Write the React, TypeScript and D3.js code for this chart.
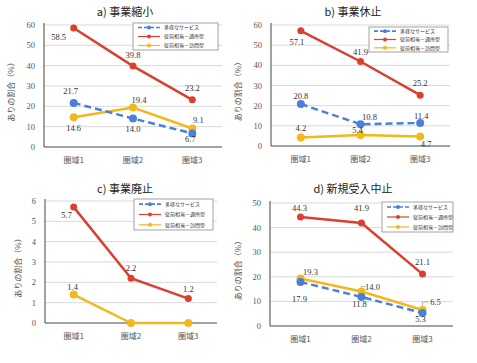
import React from 'react';
import * as d3 from 'd3';

// categories and series
const areas = ['圏域1', '圏域2', '圏域3'];
const seriesNames = ['多様なサービス', '従前相当－通所型', '従前相当－訪問型'];
const seriesColors = ['#4a7fdc', '#d9402f', '#f2b81c'];

// a) 事業縮小
const shukushoTayo = [21.7, 14.0, 6.7];
const shukushoTsusho = [58.5, 39.8, 23.2];
const shukushoHomon = [14.6, 19.4, 9.1];
// b) 事業休止
const kyushiTayo = [20.8, 10.8, 11.4];
const kyushiTsusho = [57.1, 41.9, 25.2];
const kyushiHomon = [4.2, 5.4, 4.7];
// c) 事業廃止 (多様なサービス: no data)
const haishiTayo: (number | null)[] = [null, null, null];
const haishiTsusho = [5.7, 2.2, 1.2];
const haishiHomon = [1.4, 0, 0];
const haishiHomonLabels = ['1.4', '', ''];
// d) 新規受入中止
const teishiTayo = [17.9, 11.8, 5.3];
const teishiTsusho = [44.3, 41.9, 21.1];
const teishiHomon = [19.3, 14.0, 6.5];

const fmt = (v: number) => v.toFixed(1);

// label offsets [dx, dy] per series per point (layout only)
const panels = [
  {
    title: 'a)  事業縮小', tx: 125, ty: 16,
    left: 44, right: 222, top: 25, bottom: 147, yMax: 60, step: 10, ylx: 14,
    legend: [133, 23, 85, 27],
    series: [shukushoTayo, shukushoTsusho, shukushoHomon],
    labels: [null, null, null] as (string[] | null)[],
    offs: [
      [[-3, -12], [0, 10], [-2, 6]],
      [[-15, 9], [0, -11], [0, -12]],
      [[0, 11], [6, -8], [6, -8]],
    ],
    leaders: [] as number[][],
  },
  {
    title: 'b)  事業休止', tx: 353, ty: 16,
    left: 271, right: 450, top: 25, bottom: 146, yMax: 60, step: 10, ylx: 241,
    legend: [369, 27, 79, 25],
    series: [kyushiTayo, kyushiTsusho, kyushiHomon],
    labels: [null, null, null] as (string[] | null)[],
    offs: [
      [[0, -8], [9, -7], [1, -7]],
      [[-4, 11], [0, -10], [0, -12]],
      [[0, -10], [-3, -5], [6, 7]],
    ],
    leaders: [] as number[][],
  },
  {
    title: 'c)  事業廃止', tx: 125, ty: 193,
    left: 45, right: 217, top: 201, bottom: 323, yMax: 6, step: 1, ylx: 21,
    legend: [134, 199, 79, 31],
    series: [haishiTayo, haishiTsusho, haishiHomon],
    labels: [null, null, haishiHomonLabels] as (string[] | null)[],
    offs: [
      [[0, 0], [0, 0], [0, 0]],
      [[-7, 8], [0, -10], [0, -10]],
      [[-1, -8], [0, 0], [0, 0]],
    ],
    leaders: [] as number[][],
  },
  {
    title: 'd)  新規受入中止', tx: 353, ty: 193,
    left: 270, right: 453, top: 203, bottom: 326, yMax: 50, step: 10, ylx: 241,
    legend: [382, 202, 71, 30],
    series: [teishiTayo, teishiTsusho, teishiHomon],
    labels: [null, null, null] as (string[] | null)[],
    offs: [
      [[-1, 17], [-2, 7], [-2, 6]],
      [[-1, -9], [0, -15], [0, -12]],
      [[10, -7], [11, -5], [13, -8]],
    ],
    leaders: [[2, 1], [2, 2]],
  },
];

const sansJ = '"Noto Sans CJK JP", "Noto Sans", sans-serif';
const serifN = '"Liberation Serif", "DejaVu Serif", "Noto Sans CJK JP", serif';
const textGray = '#555';

function Panel({ p }: { p: typeof panels[number] }) {
  const x = d3.scalePoint<string>().domain(areas).range([p.left, p.right]).padding(0.5);
  const y = d3.scaleLinear().domain([0, p.yMax]).range([p.bottom, p.top]);
  const ticks = d3.range(0, p.yMax + p.step / 2, p.step);
  const line = d3
    .line<number | null>()
    .defined((d) => d !== null)
    .x((_, i) => x(areas[i]) as number)
    .y((d) => y(d as number));
  const [lx, ly, lw, lh] = p.legend;
  // draw order: yellow, red, blue on top
  const order = [2, 1, 0];
  return (
    <g>
      <text x={p.tx} y={p.ty} textAnchor="middle" fontSize={11} fill="#222" fontFamily={sansJ}>
        {p.title}
      </text>
      {ticks.map((t) => (
        <g key={t}>
          {t > 0 && (
            <line x1={p.left} x2={p.right} y1={y(t)} y2={y(t)} stroke="#d9d9d9" strokeWidth={1} />
          )}
          <text x={p.left - 9} y={y(t) + 3} textAnchor="end" fontSize={8.5} fill={textGray} fontFamily={serifN}>
            {t}
          </text>
        </g>
      ))}
      <line x1={p.left} x2={p.left} y1={p.top - 2} y2={p.bottom} stroke="#444" strokeWidth={1} />
      <line x1={p.left} x2={p.right} y1={p.bottom} y2={p.bottom} stroke="#444" strokeWidth={1} />
      {areas.map((a) => (
        <text key={a} x={x(a)} y={p.bottom + 16} textAnchor="middle" fontSize={8} fill={textGray} fontFamily={sansJ}>
          {a}
        </text>
      ))}
      <text
        transform={`translate(${p.ylx},${(p.top + p.bottom) / 2 + 4}) rotate(-90)`}
        textAnchor="middle"
        fontSize={8}
        fill={textGray}
        fontFamily={sansJ}
      >
        ありの割合（%）
      </text>
      {order.map((si) => {
        const vals = p.series[si] as (number | null)[];
        return (
          <g key={si}>
            <path
              d={line(vals) || ''}
              fill="none"
              stroke={seriesColors[si]}
              strokeWidth={2.5}
              strokeDasharray={si === 0 ? '7,4' : undefined}
            />
            {vals.map((v, i) =>
              v === null ? null : (
                <circle key={i} cx={x(areas[i])} cy={y(v)} r={si === 1 ? 3.5 : 4} fill={seriesColors[si]} />
              )
            )}
          </g>
        );
      })}
      {p.leaders.map(([si, i]) => {
        const v = p.series[si][i] as number;
        const px = x(areas[i]) as number;
        const py = y(v);
        const [dx, dy] = p.offs[si][i];
        return (
          <polyline
            key={`ld${si}${i}`}
            points={`${px},${py - 4} ${px},${py + dy} ${px + dx - 7},${py + dy}`}
            fill="none"
            stroke="#999"
            strokeWidth={0.7}
          />
        );
      })}
      {p.series.map((vals, si) =>
        (vals as (number | null)[]).map((v, i) => {
          if (v === null) return null;
          const lbl = p.labels[si] ? (p.labels[si] as string[])[i] : fmt(v);
          if (!lbl) return null;
          const [dx, dy] = p.offs[si][i];
          return (
            <text
              key={`${si}-${i}`}
              x={(x(areas[i]) as number) + dx}
              y={y(v) + dy + 3}
              textAnchor="middle"
              fontSize={8.5}
              fill="#333"
              fontFamily={serifN}
            >
              {lbl}
            </text>
          );
        })
      )}
      <rect x={lx} y={ly} width={lw} height={lh} fill="#fff" stroke="#8c8c8c" strokeWidth={0.8} />
      {seriesNames.map((n, si) => {
        const rowY = ly + (lh / 3) * (si + 0.5);
        return (
          <g key={n}>
            <line
              x1={lx + 5}
              x2={lx + 27}
              y1={rowY}
              y2={rowY}
              stroke={seriesColors[si]}
              strokeWidth={si === 0 ? 1.6 : 1.2}
              strokeDasharray={si === 0 ? '4,2' : undefined}
            />
            <circle cx={lx + 16} cy={rowY} r={2} fill={seriesColors[si]} />
            <text x={lx + 31} y={rowY + 1.8} fontSize={5} fill="#333" fontFamily={sansJ}>
              {n}
            </text>
          </g>
        );
      })}
    </g>
  );
}

export default function App() {
  return (
    <svg width={477} height={363} style={{ position: 'absolute', left: 0, top: 0, background: '#fff' }}>
      <rect width={477} height={363} fill="#fff" />
      {panels.map((p, k) => (
        <Panel key={k} p={p} />
      ))}
    </svg>
  );
}
